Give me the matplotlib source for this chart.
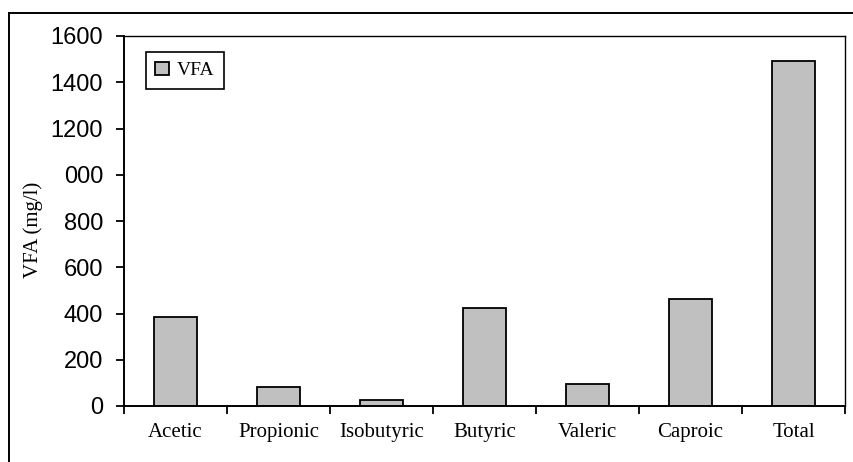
import matplotlib
matplotlib.use("Agg")
import matplotlib.pyplot as plt
import numpy as np
from matplotlib.lines import Line2D

# data
acids = ['Acetic', 'Propionic', 'Isobutyric', 'Butyric', 'Valeric', 'Caproic', 'Total']
vfa = [383, 81, 25, 422, 96, 464, 1492]
y_ticks = [0, 200, 400, 600, 800, 1000, 1200, 1400, 1600]
y_tick_labels = ['0', '200', '400', '600', '800', '000', '1200', '1400', '1600']

serif = 'Liberation Serif'
sans = 'Liberation Sans'

fig = plt.figure(figsize=(8.54, 4.62), dpi=100)
ax = fig.add_axes([124/854, 1 - 406/462, (845 - 124)/854, (406 - 36)/462])

x = np.arange(len(acids))
ax.bar(x, vfa, width=0.42, color='#c0c0c0', edgecolor='black', linewidth=1.3, label='VFA')

ax.set_xlim(-0.5, len(acids) - 0.5)
ax.set_ylim(0, 1600)

ax.set_yticks(y_ticks)
ax.set_yticklabels(y_tick_labels, fontfamily=sans, fontsize=17)
ax.tick_params(axis='y', direction='out', length=6, width=1.3, pad=9)

ax.set_xticks(x)
ax.set_xticklabels(acids, fontfamily=serif, fontsize=15)
ax.set_xticks(np.arange(-0.5, len(acids)), minor=True)
ax.tick_params(axis='x', which='major', length=0, pad=12)
ax.tick_params(axis='x', which='minor', direction='out', length=6, width=1.3)

for s in ax.spines.values():
    s.set_linewidth(1.4)
    s.set_color('black')
ax.spines['top'].set_linewidth(1.0)
ax.spines['right'].set_linewidth(1.0)

ax.set_ylabel('VFA (mg/l)', fontfamily=serif, fontsize=15)
ax.yaxis.set_label_coords(-0.113, 0.476)

leg = ax.legend(loc='upper left', bbox_to_anchor=(0.03, 0.957), prop={'family': serif, 'size': 14},
                fancybox=False, edgecolor='black', framealpha=1, handlelength=0.7, handleheight=0.7,
                handletextpad=0.4, borderpad=0.5, borderaxespad=0)
leg.get_frame().set_linewidth(1.2)

# outer chart frame (left and top only visible)
fig.add_artist(Line2D([9/854, 9/854], [0, 1 - 13/462], transform=fig.transFigure, color='black', lw=1.4))
fig.add_artist(Line2D([9/854, 1], [1 - 13/462, 1 - 13/462], transform=fig.transFigure, color='black', lw=1.4))

fig.savefig('out.png', dpi=100)
